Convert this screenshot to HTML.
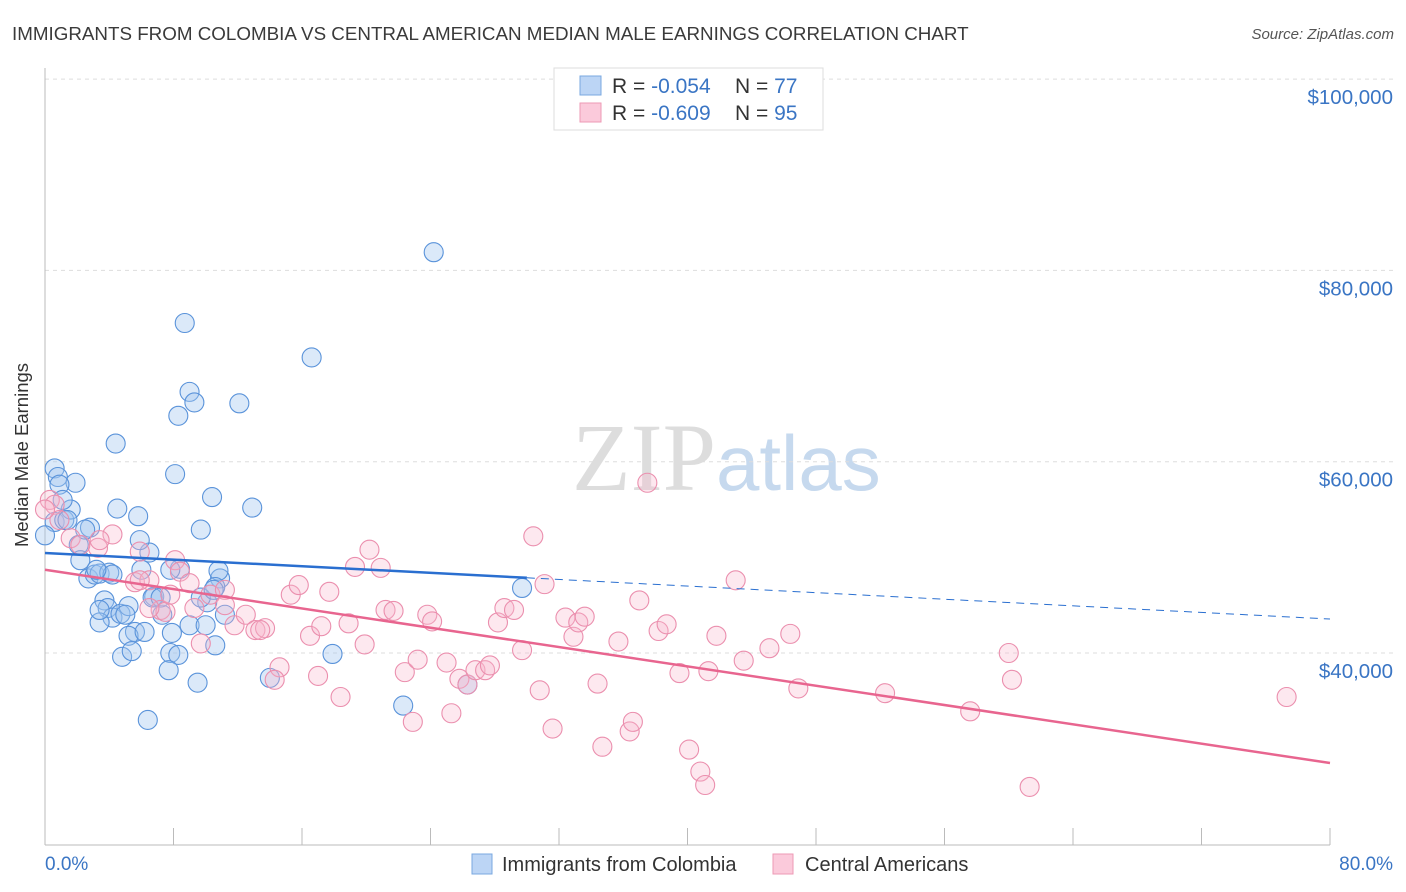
<!DOCTYPE html>
<html><head><meta charset="utf-8"><style>
body{margin:0;background:#fff;font-family:"Liberation Sans",sans-serif}
#wrap{position:relative;width:1406px;height:892px;overflow:hidden}
</style></head><body>
<div id="wrap">
<svg id="svg" width="1406" height="892" xmlns="http://www.w3.org/2000/svg">
<text x="12" y="40" font-size="18.8" fill="#3a3a3a">IMMIGRANTS FROM COLOMBIA VS CENTRAL AMERICAN MEDIAN MALE EARNINGS CORRELATION CHART</text>
<text x="1394" y="39" font-size="15" fill="#555" font-style="italic" text-anchor="end">Source: ZipAtlas.com</text>
<text x="716" y="490" font-size="96" fill="#ddd" text-anchor="end" font-family="Liberation Serif">ZIP</text>
<text x="716" y="490" font-size="78" fill="#c6d9ee">atlas</text>
<g id="grid"></g>
<line x1="45" y1="68" x2="45" y2="845" stroke="#bbb"/>
<line x1="45" y1="845" x2="1330" y2="845" stroke="#bbb"/>
<text x="28" y="455" font-size="18.5" fill="#333" text-anchor="middle" transform="rotate(-90 28 455)">Median Male Earnings</text>
<text x="45" y="870" font-size="19" fill="#3a75c4">0.0%</text>
<text x="1393" y="870" font-size="19" fill="#3a75c4" text-anchor="end">80.0%</text>
<g id="pts"></g>
<g id="lines"></g>
<g>
<rect x="554" y="68" width="269" height="62" fill="#fff" stroke="#ddd"/>
<rect x="580" y="76" width="21" height="19" fill="#bcd5f5" stroke="#7aa8e0"/>
<rect x="580" y="103" width="21" height="19" fill="#fbcadb" stroke="#ee9ab5"/>
<text x="612" y="93" font-size="21" fill="#333">R = <tspan fill="#3a75c4">-0.054</tspan><tspan x="735">N = </tspan><tspan fill="#3a75c4">77</tspan></text>
<text x="612" y="120" font-size="21" fill="#333">R = <tspan fill="#3a75c4">-0.609</tspan><tspan x="735">N = </tspan><tspan fill="#3a75c4">95</tspan></text>
</g>
<g>
<rect x="472" y="854" width="20" height="20" fill="#bcd5f5" stroke="#7aa8e0"/>
<text x="502" y="871" font-size="20" fill="#333">Immigrants from Colombia</text>
<rect x="773" y="854" width="20" height="20" fill="#fbcadb" stroke="#ee9ab5"/>
<text x="805" y="871" font-size="20" fill="#333">Central Americans</text>
</g>
</svg>
</div>
<script>
const yTicks=[40000,60000,80000,100000];
const yTickLabels=["$40,000","$60,000","$80,000","$100,000"];
const xTicks=[0,8,16,24,32,40,48,56,64,72,80];
const blueX=[0.6,0.8,1.9,0.6,1.2,1.6,2.8,2.1,2.2,2.7,3.1,3.4,3.7,3.9,4.2,3.4,4.7,5.2,5.6,5.2,6.2,4.8,5.4,4.4,4.5,5.8,6.5,6.0,6.8,6.7,7.3,7.9,7.8,8.3,7.7,9.5,6.4,8.1,8.3,8.7,9.0,9.3,12.1,10.4,9.7,12.9,8.4,10.9,10.8,10.6,10.1,9.0,10.0,10.6,11.2,16.6,24.2,17.9,14.0,22.3,26.3,29.7,0.9,2.5,4.0,1.4,0.0,3.4,4.2,7.2,9.7,10.5,7.8,3.2,5.0,5.9,1.1];
const blueY=[59.3,58.4,57.8,53.7,53.9,55.0,53.1,51.3,49.7,47.8,48.2,48.3,45.5,44.7,43.7,43.2,44.1,44.9,42.2,41.8,42.2,39.6,40.2,61.9,55.1,54.3,50.5,48.7,45.9,45.8,44.0,42.1,40.0,39.8,38.2,36.9,33.0,58.7,64.8,74.5,67.3,66.2,66.1,56.3,52.9,55.2,48.8,47.8,48.6,46.9,45.3,42.9,42.9,40.8,44.0,70.9,81.9,39.9,37.4,34.5,36.7,46.8,57.6,52.9,48.4,53.9,52.3,44.5,48.2,45.8,45.8,46.6,48.7,48.7,44.0,51.8,56.0];
const pinkX=[0.3,0.6,0.9,1.6,3.3,4.2,3.4,5.6,5.9,6.5,7.2,7.5,8.1,8.4,7.8,9.0,9.3,9.7,10.3,11.2,11.8,12.5,13.1,13.7,14.6,14.3,15.3,15.8,16.5,17.0,17.2,17.7,18.4,18.9,19.3,19.9,20.2,20.9,21.2,21.7,22.4,22.9,23.2,23.8,24.1,25.0,25.3,25.8,26.3,26.8,27.4,27.7,28.2,28.6,29.2,29.7,30.4,30.8,31.1,31.6,32.4,32.9,33.2,33.6,34.4,34.7,35.7,36.4,36.6,37.0,37.5,38.2,38.7,39.5,40.1,40.8,41.1,41.3,41.8,43.0,43.5,45.1,46.4,46.9,52.3,57.6,60.0,60.2,61.3,77.3,0.0,2.2,5.9,11.2,13.4,6.5];
const pinkY=[56.0,55.5,53.9,52.0,51.0,52.4,51.8,47.4,50.6,47.6,44.5,44.3,49.7,48.5,46.1,47.3,44.7,41.0,46.1,46.6,42.9,44.0,42.4,42.6,38.5,37.2,46.1,47.1,41.8,37.6,42.8,46.4,35.4,43.1,49.0,40.9,50.8,48.9,44.5,44.4,38.0,32.8,39.3,44.0,43.3,39.0,33.7,37.3,36.7,38.2,38.2,38.7,43.2,44.7,44.5,40.3,52.2,36.1,47.2,32.1,43.7,41.7,43.2,43.8,36.8,30.2,41.2,31.8,32.8,45.5,57.8,42.3,43.0,37.9,29.9,27.6,26.2,38.1,41.8,47.6,39.2,40.5,42.0,36.3,35.8,33.9,40.0,37.2,26.0,35.4,55.0,51.3,47.6,45.0,42.4,44.7];
const blueTrend=[50.45,43.55];
const pinkTrend=[48.7,28.5];
const NS="http://www.w3.org/2000/svg";
function xs(v){return 45+v/80*1285;}
function ys(k){return 653-(k-40)*191.3/20;}
function mk(t,a,p){const e=document.createElementNS(NS,t);for(const k in a)e.setAttribute(k,a[k]);p.appendChild(e);return e;}
const grid=document.getElementById('grid');
yTicks.forEach((v,i)=>{const y=ys(v/1000);
const l=mk('line',{x1:45,x2:1393,y1:y,y2:y,stroke:'#ddd','stroke-dasharray':'4,4'},grid);


const t=mk('text',{x:1393,y:y+25,'font-size':20.5,fill:'#3a75c4','text-anchor':'end'},grid);


t.textContent=yTickLabels[i];});
xTicks.forEach(v=>{const x=xs(v);
const l=mk('line',{x1:x,x2:x,y1:828,y2:845,stroke:'#bbb'},grid);

});
const pts=document.getElementById('pts');
blueX.forEach((v,i)=>{const c=mk('circle',{cx:xs(v),cy:ys(blueY[i]),r:9.5,fill:'rgba(160,196,240,0.38)',stroke:'#5a93da','stroke-width':1.1},pts);

});
pinkX.forEach((v,i)=>{const c=mk('circle',{cx:xs(v),cy:ys(pinkY[i]),r:9.5,fill:'rgba(248,185,206,0.32)',stroke:'#eb8fae','stroke-width':1.1},pts);

});
const lines=document.getElementById('lines');
function ty(tr,x){return tr[0]+(tr[1]-tr[0])*x/80;}
let l=mk('line',{x1:xs(0),y1:ys(ty(blueTrend,0)),x2:xs(30),y2:ys(ty(blueTrend,30)),stroke:'#2a6fd0','stroke-width':2.5},lines);


l=mk('line',{x1:xs(30),y1:ys(ty(blueTrend,30)),x2:xs(80),y2:ys(ty(blueTrend,80)),stroke:'#2a6fd0','stroke-width':1,'stroke-dasharray':'8,6'},lines);


l=mk('line',{x1:xs(0),y1:ys(ty(pinkTrend,0)),x2:xs(80),y2:ys(ty(pinkTrend,80)),stroke:'#e8658f','stroke-width':2.5},lines);


</script>
</body></html>
